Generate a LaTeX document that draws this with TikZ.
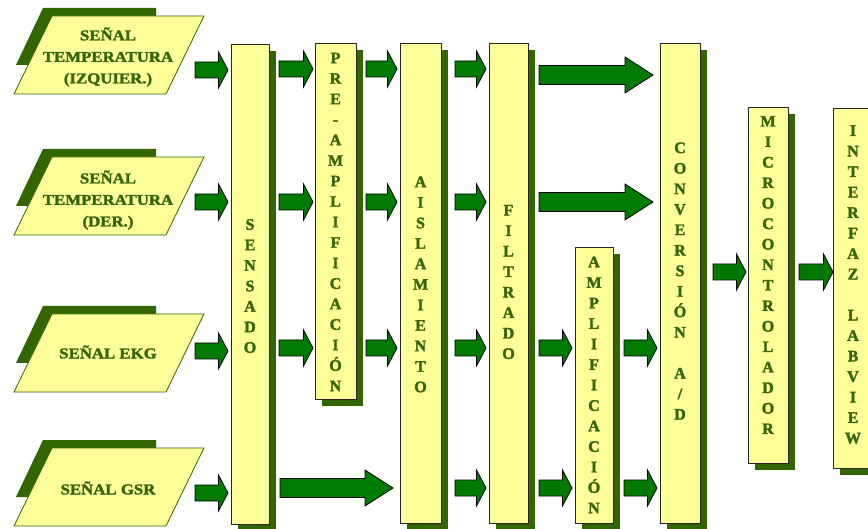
\documentclass[tikz,border=0pt]{standalone}
\usepackage{fontspec}
\setmainfont{Liberation Serif}
\newfontfamily\pfont[FakeStretch=1.12, FakeBold=2]{Liberation Serif Bold}
\newfontfamily\vfont[FakeBold=2]{Liberation Serif Bold}
\usetikzlibrary{shadows}
\definecolor{yel}{HTML}{FFFF99}
\definecolor{shd}{HTML}{336600}
\definecolor{agreen}{HTML}{007A00}
\definecolor{txt}{HTML}{36650A}
\newcommand\smallarr[3]{% start, tip, y
  \filldraw[arr] (#1,#3-8) -- (#2-9.5,#3-8) -- (#2-9.5,#3-18) -- (#2,#3) -- (#2-9.5,#3+18) -- (#2-9.5,#3+8) -- (#1,#3+8) -- cycle;}
\newcommand\longarr[4]{% start, headbase, tip, y
  \filldraw[arr] (#1,#4-9.5) -- (#2,#4-9.5) -- (#2,#4-18) -- (#3,#4) -- (#2,#4+18) -- (#2,#4+9.5) -- (#1,#4+9.5) -- cycle;}
\newcommand\paral[4]{% top y, name, text, text offset
  \fill[shd] (43,#1-8) -- (156,#1-8) -- (156,#1+5) -- (60,#1+5) -- (27.8,#1+49) -- (16,#1+49) -- cycle;
  \filldraw[pbox] (52,#1) -- (204,#1) -- (166,#1+78) -- (14,#1+78) -- cycle;
  \node[ptxt] (#2) at (108,#1+#4) {#3};}
\begin{document}
\begin{tikzpicture}[x=1pt,y=-1pt,
  arr/.style={fill=agreen, draw=black, line width=0.8pt, line join=miter},
  pbox/.style={fill=yel, draw=shd, line width=0.8pt},
  ptxt/.style={font=\pfont\fontsize{15}{21.5}\selectfont, text=txt, align=center, inner sep=0pt},
  blk/.style={fill=yel, draw=black!85, line width=0.9pt,
    drop shadow={fill=shd, opacity=1, shadow xshift=6.5pt, shadow yshift=-7pt}},
  vtxt/.style={font=\vfont\fontsize{16}{20.5}\selectfont, text=txt, align=center, inner sep=0pt}]
\useasboundingbox (0,0) rectangle (868,529);

% parallelograms
\paral{16}{p1}{SEÑAL\\TEMPERATURA\\(IZQUIER.)}{41}
\paral{157}{p2}{SEÑAL\\TEMPERATURA\\(DER.)}{43}
\paral{314}{p3}{SEÑAL EKG}{38}
\paral{448}{p4}{SEÑAL GSR}{40}

% blocks
\node[blk, minimum width=38pt, minimum height=480pt] (sens) at (250,284) {};
\node[blk, minimum width=41pt, minimum height=356pt] (pre) at (335.5,221) {};
\node[blk, minimum width=41pt, minimum height=480pt] (aisl) at (420.5,283) {};
\node[blk, minimum width=39pt, minimum height=480pt] (filt) at (508.5,283) {};
\node[blk, minimum width=38pt, minimum height=276pt] (ampl) at (594,385) {};
\node[blk, minimum width=40pt, minimum height=480pt] (conv) at (680,283) {};
\node[blk, minimum width=40pt, minimum height=356pt] (micro) at (768,285) {};
\node[blk, minimum width=40pt, minimum height=360pt] (inter) at (853,288) {};

% block texts
\node[vtxt] (sensT) at (250,286) {S\\E\\N\\S\\A\\D\\O};
\node[vtxt] (preT) at (335.5,222) {P\\R\\E\\-\\A\\M\\P\\L\\I\\F\\I\\C\\A\\C\\I\\Ó\\N};
\node[vtxt] (aislT) at (420.5,284.5) {A\\I\\S\\L\\A\\M\\I\\E\\N\\T\\O};
\node[vtxt] (filtT) at (508.5,282) {F\\I\\L\\T\\R\\A\\D\\O};
\node[vtxt] (amplT) at (594,385) {A\\M\\P\\L\\I\\F\\I\\C\\A\\C\\I\\Ó\\N};
\node[vtxt] (convT) at (680,281) {C\\O\\N\\V\\E\\R\\S\\I\\Ó\\N\\\mbox{}\\A\\/\\D};
\node[vtxt] (microT) at (768,275) {M\\I\\C\\R\\O\\C\\O\\N\\T\\R\\O\\L\\A\\D\\O\\R};
\node[vtxt] (interT) at (853,284.5) {I\\N\\T\\E\\R\\F\\A\\Z\\\mbox{}\\L\\A\\B\\V\\I\\E\\W};

% row 1
\smallarr{195}{228}{70}
\smallarr{279}{313}{69}
\smallarr{366}{397}{69}
\smallarr{455}{486}{69}
\longarr{539}{625}{653}{75}
% row 2
\smallarr{195}{228}{202}
\smallarr{279}{313}{202}
\smallarr{366}{397}{202}
\smallarr{455}{486}{202}
\longarr{539}{625}{653}{202}
% row 3
\smallarr{195}{228}{351}
\smallarr{279}{313}{348}
\smallarr{366}{397}{348}
\smallarr{455}{486}{348}
\smallarr{539}{572}{348}
\smallarr{624}{657}{348}
% row 4
\smallarr{195}{228}{493}
\longarr{280}{365}{393}{488}
\smallarr{455}{486}{488}
\smallarr{539}{572}{488}
\smallarr{624}{657}{488}
% right
\smallarr{713}{746}{272}
\smallarr{799}{833}{272}
\end{tikzpicture}
\end{document}
